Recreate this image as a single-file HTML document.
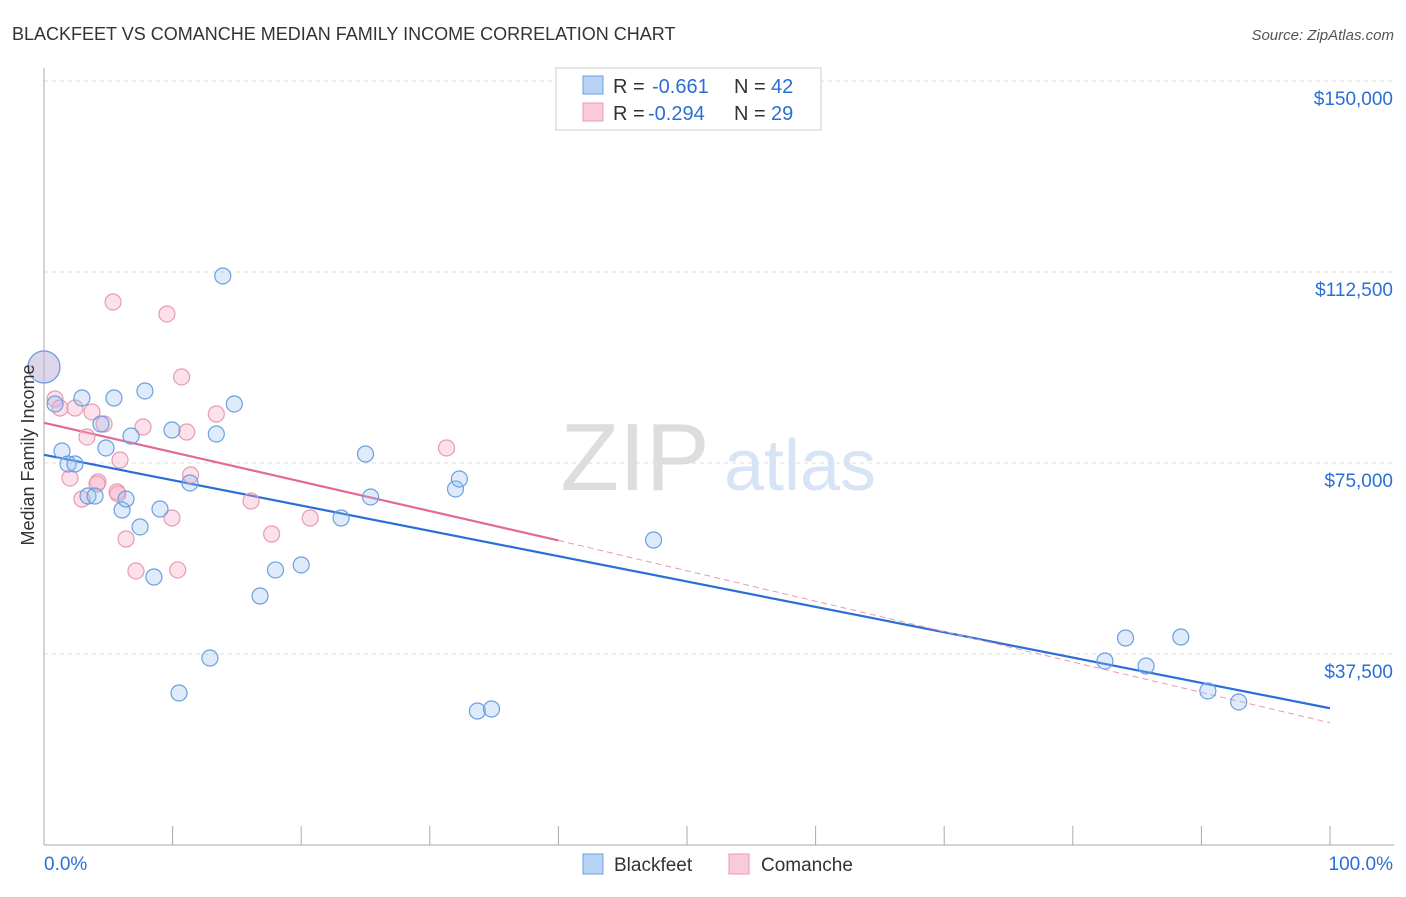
<!DOCTYPE html>
<html><head><meta charset="utf-8">
<style>
body{margin:0;background:#fff;font-family:"Liberation Sans",sans-serif;}
svg text{font-family:"Liberation Sans",sans-serif;}
</style></head>
<body>
<svg id="chart" width="1406" height="892" xmlns="http://www.w3.org/2000/svg">
<text x="12" y="40" font-size="18" fill="#333">BLACKFEET VS COMANCHE MEDIAN FAMILY INCOME CORRELATION CHART</text>
<text x="1394" y="40" font-size="15" fill="#555" text-anchor="end" font-style="italic">Source: ZipAtlas.com</text>
<g>
<text x="635" y="490" font-size="96" fill="#ddd" font-family="Liberation Serif" text-anchor="middle">ZIP</text>
<text x="800" y="490" font-size="72" fill="#d6e4f5" text-anchor="middle">atlas</text>
</g>
<g id="grid"></g>
<g id="axes"></g>
<g id="lines"></g>
<g id="points"></g>
<text transform="translate(34,455) rotate(-90)" font-size="18" fill="#333" text-anchor="middle">Median Family Income</text>
<g>
<rect x="556" y="68" width="265" height="62" fill="#fff" stroke="#ccc"/>
<rect x="583" y="76" width="20" height="18" fill="#b8d3f5" stroke="#6a9fe0"/>
<text x="613" y="93" font-size="20" fill="#333">R =</text>
<text x="652" y="93" font-size="20" fill="#2a6fd6">-0.661</text>
<text x="734" y="93" font-size="20" fill="#333">N =</text>
<text x="771" y="93" font-size="20" fill="#2a6fd6">42</text>
<rect x="583" y="103" width="20" height="18" fill="#f9cbd9" stroke="#e89ab3"/>
<text x="613" y="120" font-size="20" fill="#333">R =</text>
<text x="648" y="120" font-size="20" fill="#2a6fd6">-0.294</text>
<text x="734" y="120" font-size="20" fill="#333">N =</text>
<text x="771" y="120" font-size="20" fill="#2a6fd6">29</text>
</g>
<g>
<rect x="583" y="854" width="20" height="20" fill="#b8d3f5" stroke="#6a9fe0"/>
<text x="614" y="871" font-size="19" fill="#333">Blackfeet</text>
<rect x="729" y="854" width="20" height="20" fill="#f9cbd9" stroke="#e89ab3"/>
<text x="761" y="871" font-size="19" fill="#333">Comanche</text>
</g>
</svg>
<script>
const yTicks=[150000,112500,75000,37500];
const yTickLabels=["$150,000","$112,500","$75,000","$37,500"];
const xTickLabels=["0.0%","100.0%"];
const blackfeetX=[0,0.86,1.4,1.87,2.41,2.95,3.42,3.97,4.43,4.82,5.44,6.07,6.38,6.77,7.47,7.85,8.55,9.02,9.95,10.5,11.35,12.9,13.4,13.9,14.8,16.8,18.0,20.0,23.1,25.0,25.4,32.0,32.3,33.7,34.8,47.4,82.5,84.1,85.7,88.4,90.5,92.9];
const blackfeetY=[93850,86590,77360,74810,74810,87760,68520,68520,82660,77950,87760,65770,67930,80300,62440,89140,52620,65970,81480,29840,71080,36710,80700,111720,86590,48890,54000,54980,64200,76770,68330,69900,71860,26310,26700,59880,36130,40640,35150,40840,30240,28080];
const comancheX=[0,0.86,1.24,2.02,2.41,2.95,3.34,3.73,4.2,4.67,5.37,5.75,5.91,6.38,7.15,7.7,9.56,9.95,10.4,10.7,11.1,11.4,13.4,16.1,17.7,20.7,31.3,5.68,4.12];
const comancheY=[93850,87570,85800,72060,85800,67930,80110,85020,71270,82660,106610,68920,75590,60080,53800,82070,104260,64200,54000,91890,81090,72650,84620,67540,61060,64200,77950,69310,70880];
const blueTrend=[[0,76600],[100,26850]];
const pinkTrend=[[0,82900],[40,59800],[100,24000]];
const NS="http://www.w3.org/2000/svg";
const sx=v=>44+v*12.86, sy=v=>845-v/37500*191;
function mk(tag,attrs,parent){const e=document.createElementNS(NS,tag);for(const k in attrs)e.setAttribute(k,attrs[k]);parent.appendChild(e);return e;}
const grid=document.getElementById('grid'),axes=document.getElementById('axes'),lines=document.getElementById('lines'),pts=document.getElementById('points');
yTicks.forEach((t,i)=>{
 const g=mk('line',{x1:44,x2:1394,y1:sy(t),y2:sy(t),stroke:'#ddd','stroke-dasharray':'4,4'},grid);
 
 
 const tx=mk('text',{x:1393,y:sy(t)+24,'font-size':19,fill:'#2a6fd6','text-anchor':'end'},axes);
 tx.textContent=yTickLabels[i];
 
 
});
const ax=mk('line',{x1:44,x2:1394,y1:845,y2:845,stroke:'#aaa'},axes);


const ay=mk('line',{x1:44,x2:44,y1:68,y2:845,stroke:'#aaa'},axes);


for(let i=0;i<=10;i++){
 const t=mk('line',{x1:sx(i*10),x2:sx(i*10),y1:826,y2:845,stroke:'#aaa'},axes);
 
 
}
[[0,44,'start'],[1,1393,'end']].forEach(([i,x,a])=>{
 const t=mk('text',{x:x,y:870,'font-size':19,fill:'#2a6fd6','text-anchor':a},axes);
 t.textContent=xTickLabels[i];
 
 
});
function dot(x,y,fill,stroke,name){
 const r=(x===0)?16:8;
 const c=mk('circle',{cx:sx(x),cy:sy(y),r:r,fill:fill,stroke:stroke,'stroke-width':1.2},pts);
 
 
}
comancheX.forEach((x,i)=>dot(x,comancheY[i],'rgba(245,170,195,0.35)','#e89ab3','comanche-point'));
blackfeetX.forEach((x,i)=>dot(x,blackfeetY[i],'rgba(150,190,240,0.3)','#6a9fe0','blackfeet-point'));
const bl=mk('line',{x1:sx(blueTrend[0][0]),y1:sy(blueTrend[0][1]),x2:sx(blueTrend[1][0]),y2:sy(blueTrend[1][1]),stroke:'#2a6fd6','stroke-width':2.2},lines);


const pl=mk('line',{x1:sx(pinkTrend[0][0]),y1:sy(pinkTrend[0][1]),x2:sx(pinkTrend[1][0]),y2:sy(pinkTrend[1][1]),stroke:'#e26a93','stroke-width':2.2},lines);


const pd=mk('line',{x1:sx(pinkTrend[1][0]),y1:sy(pinkTrend[1][1]),x2:sx(pinkTrend[2][0]),y2:sy(pinkTrend[2][1]),stroke:'#e89ab3','stroke-width':1,'stroke-dasharray':'6,4'},lines);


</script>
</body></html>
